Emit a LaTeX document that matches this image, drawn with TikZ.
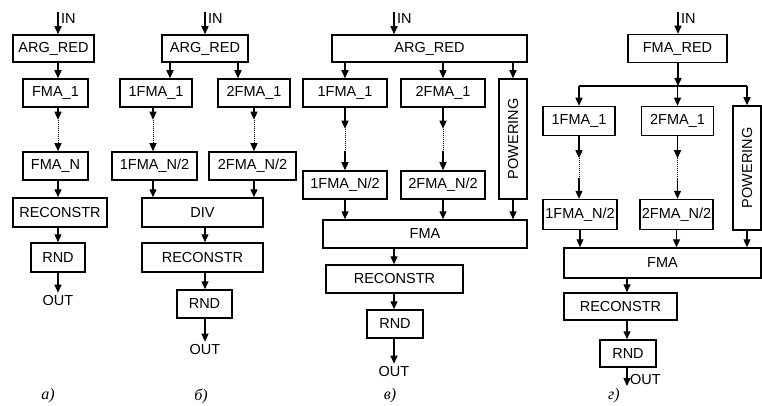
\documentclass[tikz,border=0pt]{standalone}
\usepackage{fontspec}
\setmainfont{Liberation Sans}
\newfontfamily\panelfont{Liberation Serif}
\usepackage{graphicx}
\usetikzlibrary{arrows.meta}

\begin{document}
\begin{tikzpicture}[x=1pt, y=-1pt, >={Triangle[length=8pt,width=7pt]},
  blk/.style={draw, line width=1.5pt, inner sep=0pt, font=\fontsize{14.5}{16}\selectfont},
  lbl/.style={inner sep=3pt, font=\fontsize{14.5}{16}\selectfont},
  panel/.style={font=\panelfont\itshape\fontsize{16}{18}\selectfont},
  flow/.style={->, line width=1.3pt},
  dotline/.style={densely dotted, line width=1pt}]
  \useasboundingbox (0,0) rectangle (762,406);

  % Panel a
  \coordinate (colA) at (58,0);
  \coordinate (srcA) at (58,12);
  \node[blk, minimum width=81pt, minimum height=27pt] (argA) at (53.5,48.5) {ARG\_RED};
  \node[blk, minimum width=65pt, minimum height=28pt] (fOneA) at (55.5,93) {FMA\_1};
  \node[blk, minimum width=65pt, minimum height=28pt] (fNA) at (55.5,166) {FMA\_N};
  \node[blk, minimum width=94pt, minimum height=29pt] (recA) at (60,212.5) {RECONSTR};
  \node[blk, minimum width=54pt, minimum height=29pt] (rndA) at (58,257.5) {RND};
  \node[lbl] (outA) at (58,301) {OUT};
  \node[lbl, anchor=west, inner sep=1pt] (inA) at (60,19) {IN};
  \draw[flow] (srcA) -- (argA.north -| srcA);
  \draw[flow] (argA.south -| colA) -- (fOneA.north -| colA);
  \draw[flow] (fOneA.south -| colA) -- ++(0,12) coordinate (dA1);
  \draw[dotline] (dA1) -- ++(0,24) coordinate (dA2);
  \draw[flow] (dA2) -- (fNA.north -| colA);
  \draw[flow] (fNA.south -| colA) -- (recA.north -| colA);
  \draw[flow] (recA.south -| colA) -- (rndA.north -| colA);
  \draw[flow] (rndA.south -| colA) -- (outA.north -| colA);
  \node[panel] (capA) at (48,396) {а)};

  % Panel b
  \coordinate (colB) at (205,0);
  \coordinate (srcB) at (205,12);
  \node[blk, minimum width=86pt, minimum height=27pt] (argB) at (205,48.5) {ARG\_RED};
  \node[blk, minimum width=72pt, minimum height=28pt] (fOneB) at (156,93) {1FMA\_1};
  \node[blk, minimum width=72pt, minimum height=28pt] (fTwoB) at (254,93) {2FMA\_1};
  \node[blk, minimum width=85pt, minimum height=28pt] (fOneNB) at (154.5,166) {1FMA\_N/2};
  \node[blk, minimum width=87pt, minimum height=28pt] (fTwoNB) at (252.5,166) {2FMA\_N/2};
  \node[blk, minimum width=121pt, minimum height=29pt] (divB) at (202.5,212.5) {DIV};
  \node[blk, minimum width=121pt, minimum height=29pt] (recB) at (202.5,257.5) {RECONSTR};
  \node[blk, minimum width=55pt, minimum height=28pt] (rndB) at (204.5,304) {RND};
  \node[lbl] (outB) at (205,350) {OUT};
  \node[lbl, anchor=west, inner sep=1pt] (inB) at (207,19) {IN};
  \coordinate (colB1) at (170,0);
  \coordinate (colB2) at (238,0);
  \coordinate (colB3) at (153,0);
  \coordinate (colB4) at (254,0);
  \draw[flow] (srcB) -- (argB.north -| srcB);
  \draw[flow] (argB.south -| colB1) -- (fOneB.north -| colB1);
  \draw[flow] (argB.south -| colB2) -- (fTwoB.north -| colB2);
  \draw[flow] (fOneB.south -| colB3) -- ++(0,12) coordinate (dB1);
  \draw[dotline] (dB1) -- ++(0,24) coordinate (dB2);
  \draw[flow] (dB2) -- (fOneNB.north -| colB3);
  \draw[flow] (fTwoB.south -| colB4) -- ++(0,12) coordinate (dB3);
  \draw[dotline] (dB3) -- ++(0,24) coordinate (dB4);
  \draw[flow] (dB4) -- (fTwoNB.north -| colB4);
  \draw[flow] (fOneNB.south -| colB3) -- (divB.north -| colB3);
  \draw[flow] (fTwoNB.south -| colB4) -- (divB.north -| colB4);
  \draw[flow] (divB.south -| colB) -- (recB.north -| colB);
  \draw[flow] (recB.south -| colB) -- (rndB.north -| colB);
  \draw[flow] (rndB.south -| colB) -- (outB.north -| colB);
  \node[panel] (capB) at (201,396) {б)};

  % Panel c
  \coordinate (colC) at (394,0);
  \coordinate (srcC) at (394,12);
  \node[blk, minimum width=195pt, minimum height=27pt] (argC) at (429.5,48.5) {ARG\_RED};
  \node[blk, minimum width=84pt, minimum height=28pt] (fOneC) at (345,93) {1FMA\_1};
  \node[blk, minimum width=84pt, minimum height=28pt] (fTwoC) at (443,93) {2FMA\_1};
  \node[blk, minimum width=28pt, minimum height=120pt] (powC) at (513,139) {\rotatebox{90}{POWERING}};
  \node[blk, minimum width=84pt, minimum height=28pt] (fOneNC) at (345,185) {1FMA\_N/2};
  \node[blk, minimum width=84pt, minimum height=28pt] (fTwoNC) at (443,185) {2FMA\_N/2};
  \node[blk, minimum width=204pt, minimum height=28pt] (fmaC) at (425,234) {FMA};
  \node[blk, minimum width=137pt, minimum height=28pt] (recC) at (394.5,279) {RECONSTR};
  \node[blk, minimum width=56pt, minimum height=28pt] (rndC) at (395,324) {RND};
  \node[lbl] (outC) at (394,372) {OUT};
  \node[lbl, anchor=west, inner sep=1pt] (inC) at (396,19) {IN};
  \draw[flow] (srcC) -- (argC.north -| srcC);
  \foreach \n in {fOneC, fTwoC, powC}
    \draw[flow] (argC.south -| \n) -- (\n.north);
  \foreach \n/\m in {fOneC/fOneNC, fTwoC/fTwoNC}{
    \draw[flow] (\n.south) -- ++(0,21) coordinate (d1);
    \draw[dotline] (d1) -- ++(0,22) coordinate (d2);
    \draw[flow] (d2) -- (\m.north);
  }
  \foreach \n in {fOneNC, fTwoNC, powC}
    \draw[flow] (\n.south) -- (fmaC.north -| \n);
  \draw[flow] (fmaC.south -| colC) -- (recC.north -| colC);
  \draw[flow] (recC.south -| colC) -- (rndC.north -| colC);
  \draw[flow] (rndC.south -| colC) -- (outC.north -| colC);
  \node[panel] (capC) at (390,396) {в)};

  % Panel d
  \coordinate (colD) at (627,0);
  \coordinate (srcD) at (678,12);
  \coordinate (jD) at (678,86);
  \node[blk, minimum width=99pt, minimum height=28pt] (redD) at (677.5,48.5) {FMA\_RED};
  \node[blk, minimum width=72pt, minimum height=29pt] (fOneD) at (579,121) {1FMA\_1};
  \node[blk, minimum width=72pt, minimum height=29pt] (fTwoD) at (677.5,121) {2FMA\_1};
  \node[blk, minimum width=28pt, minimum height=124pt] (powD) at (747,168) {\rotatebox{90}{POWERING}};
  \node[blk, minimum width=74pt, minimum height=30pt] (fOneND) at (580,214.5) {1FMA\_N/2};
  \node[blk, minimum width=73pt, minimum height=30pt] (fTwoND) at (676.5,214.5) {2FMA\_N/2};
  \node[blk, minimum width=197pt, minimum height=30pt] (fmaD) at (662.5,263) {FMA};
  \node[blk, minimum width=113pt, minimum height=27pt] (recD) at (620.5,306.5) {RECONSTR};
  \node[blk, minimum width=56pt, minimum height=27pt] (rndD) at (628,353.5) {RND};
  \node[lbl, anchor=west, inner sep=1pt] (outD) at (629,380) {OUT};
  \node[lbl, anchor=west, inner sep=1pt] (inD) at (680,19) {IN};
  \coordinate (endD) at (627,386);
  \draw[flow] (srcD) -- (redD.north -| srcD);
  \draw[flow] (redD.south -| jD) -- (jD);
  \draw[line width=1.3pt] (jD -| fOneD) -- (jD -| powD);
  \foreach \n in {fOneD, fTwoD, powD}
    \draw[flow] (jD -| \n) -- (\n.north);
  \foreach \n/\m in {fOneD/fOneND, fTwoD/fTwoND}{
    \draw[flow] (\n.south) -- ++(0,22) coordinate (d1);
    \draw[dotline] (d1) -- ++(0,20) coordinate (d2);
    \draw[flow] (d2) -- (\m.north -| \n);
  }
  \foreach \n in {fOneND, fTwoND, powD}
    \draw[flow] (\n.south) -- (fmaD.north -| \n);
  \draw[flow] (fmaD.south -| colD) -- (recD.north -| colD);
  \draw[flow] (recD.south -| colD) -- (rndD.north -| colD);
  \draw[flow] (rndD.south -| colD) -- (endD);
  \node[panel] (capD) at (614,396) {г)};
\end{tikzpicture}
\end{document}
